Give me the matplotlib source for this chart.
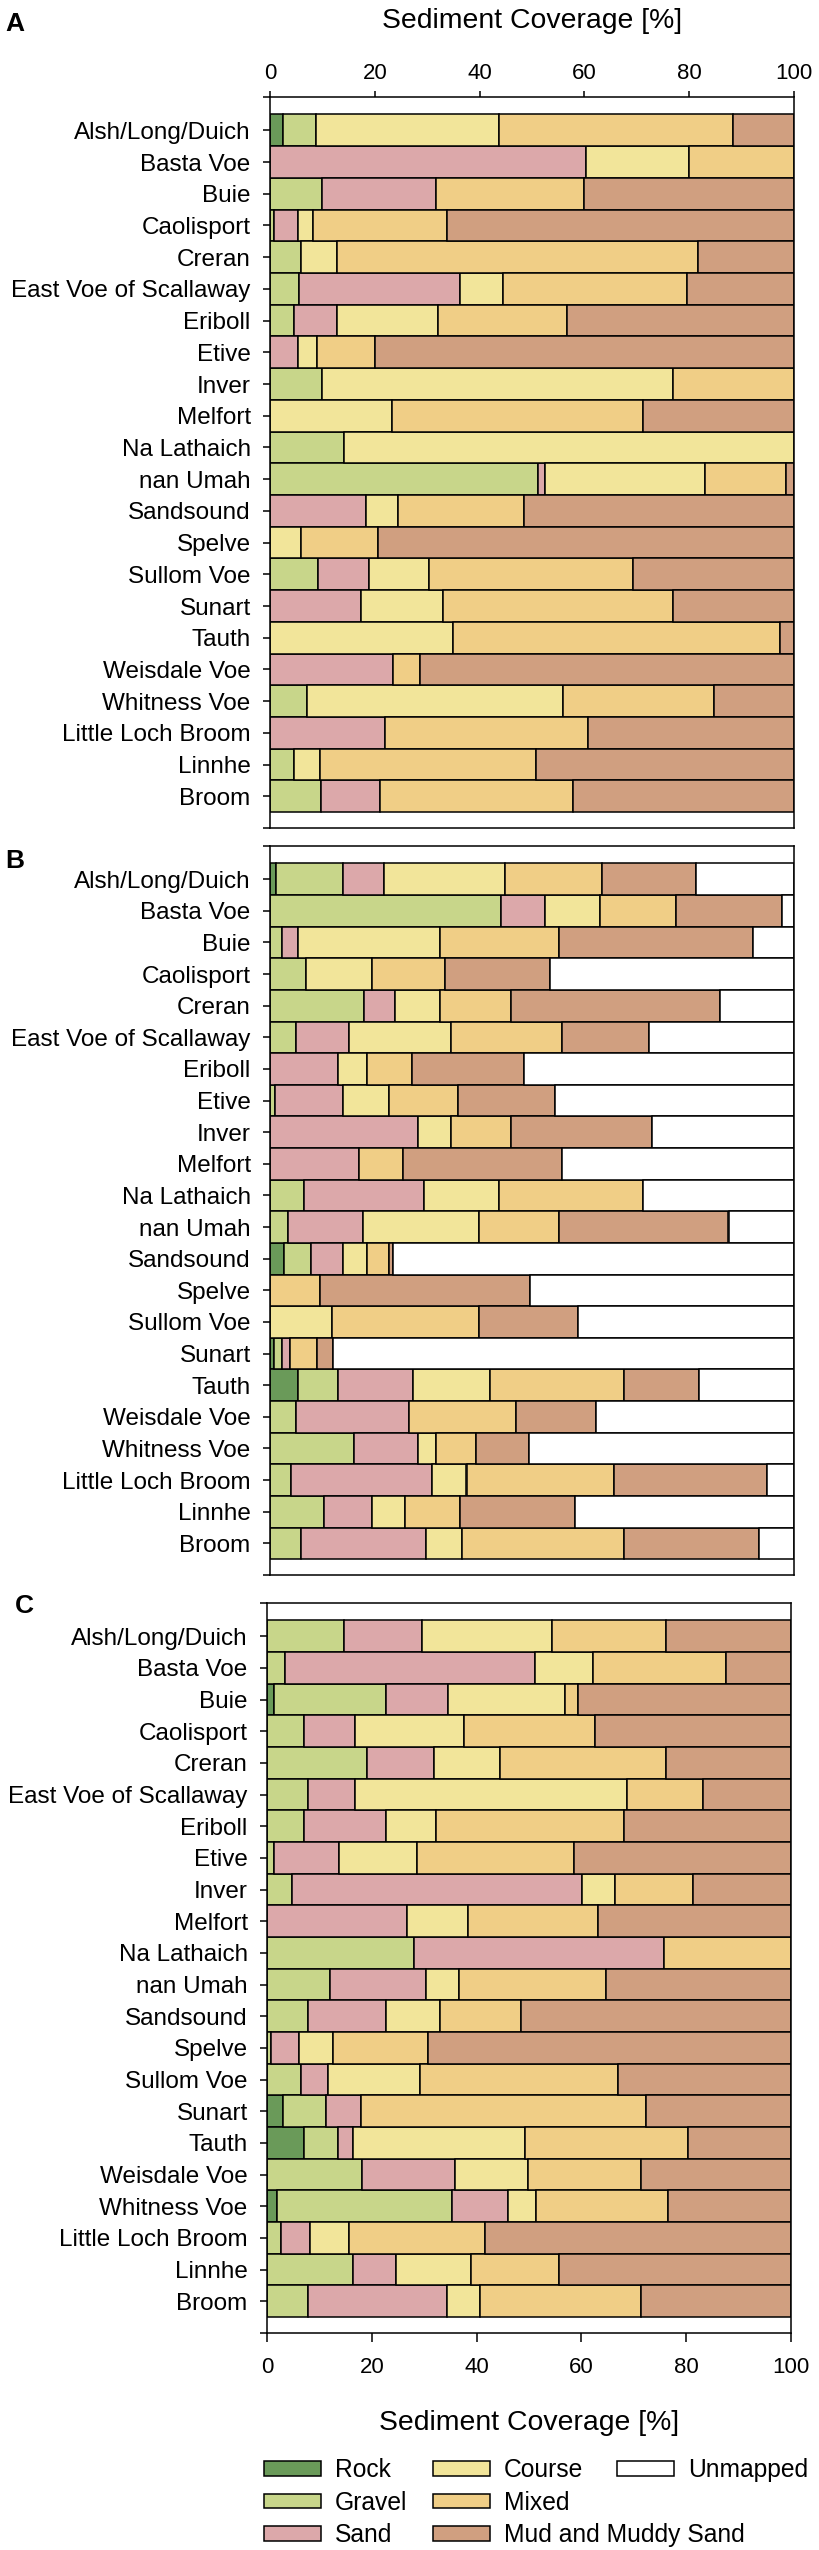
import numpy as np
import matplotlib
matplotlib.use("Agg")
import matplotlib.pyplot as plt
from matplotlib.patches import Patch

plt.rcParams['font.family'] = ['Liberation Sans', 'DejaVu Sans']

sites = ["Alsh/Long/Duich", "Basta Voe", "Buie", "Caolisport", "Creran",
         "East Voe of Scallaway", "Eriboll", "Etive", "Inver", "Melfort",
         "Na Lathaich", "nan Umah", "Sandsound", "Spelve", "Sullom Voe",
         "Sunart", "Tauth", "Weisdale Voe", "Whitness Voe", "Little Loch Broom",
         "Linnhe", "Broom"]

classes = ["Rock", "Gravel", "Sand", "Course", "Mixed", "Mud and Muddy Sand", "Unmapped"]
class_colors = ["#6a9a59", "#c8d68a", "#dca8aa", "#f2e59a", "#f0ce86", "#d09f80", "#ffffff"]

# ---- Panel A ----
a_rock   = [2.4, 0, 0, 0, 0, 0, 0, 0, 0, 0, 0, 0, 0, 0, 0, 0, 0, 0, 0, 0, 0, 0]
a_gravel = [6.4, 0, 10.0, 0.7, 5.9, 5.6, 4.5, 0, 10.0, 0, 14.2, 51.1, 0, 0, 9.1, 0, 0, 0, 7.1, 0, 4.5, 9.8]
a_sand   = [0, 60.3, 21.6, 4.6, 0, 30.7, 8.2, 5.3, 0, 0, 0, 1.3, 18.3, 0, 9.7, 17.4, 0, 23.5, 0, 21.9, 0, 11.2]
a_course = [34.9, 19.7, 0, 3.0, 6.8, 8.1, 19.3, 3.6, 66.9, 23.3, 85.8, 30.6, 6.2, 5.9, 11.6, 15.7, 34.9, 0, 48.8, 0, 5.0, 0]
a_mixed  = [44.6, 20.0, 28.3, 25.4, 69.0, 35.1, 24.7, 11.1, 23.1, 47.9, 0, 15.5, 24.0, 14.8, 38.8, 43.8, 62.4, 5.1, 28.9, 38.7, 41.2, 36.8]
a_mud    = [11.7, 0, 40.1, 66.3, 18.3, 20.5, 43.3, 80.0, 0, 28.8, 0, 1.5, 51.5, 79.3, 30.8, 23.1, 2.7, 71.4, 15.2, 39.4, 49.3, 42.2]
a_unmapped = [0] * 22

# ---- Panel B ----
b_rock   = [1.1, 0, 0, 0, 0, 0, 0, 0, 0, 0, 0, 0, 2.6, 0, 0, 0.7, 5.3, 0, 0, 0, 0, 0]
b_gravel = [12.8, 44.0, 2.3, 6.8, 17.9, 5.0, 0, 1.0, 0, 0, 6.5, 3.5, 5.3, 0, 0, 1.6, 7.7, 5.0, 16.0, 4.1, 10.3, 5.9]
b_sand   = [7.9, 8.5, 3.0, 0, 5.9, 10.0, 12.9, 12.9, 28.3, 17.0, 22.9, 14.2, 6.0, 0, 0, 1.5, 14.2, 21.6, 12.3, 26.9, 9.1, 23.9]
b_course = [23.1, 10.5, 27.1, 12.6, 8.6, 19.5, 5.7, 8.8, 6.2, 0, 14.3, 22.1, 4.7, 0, 11.8, 0, 14.8, 0, 3.3, 6.5, 6.4, 6.8]
b_mixed  = [18.4, 14.4, 22.8, 14.0, 13.6, 21.3, 8.5, 13.1, 11.5, 8.4, 27.5, 15.4, 4.1, 9.5, 28.0, 5.1, 25.6, 20.4, 7.7, 28.1, 10.5, 31.0]
b_mud    = [18.0, 20.3, 36.9, 20.0, 39.9, 16.6, 21.3, 18.5, 26.9, 30.4, 0, 32.3, 0.8, 40.2, 19.0, 3.2, 14.3, 15.3, 10.1, 29.2, 21.9, 25.7]
b_unmapped = [18.7, 2.3, 7.9, 46.6, 14.1, 27.6, 51.6, 45.7, 27.1, 44.2, 28.8, 12.5, 76.5, 50.3, 41.2, 87.9, 18.1, 37.7, 50.6, 5.2, 41.8, 6.7]

# ---- Panel C ----
c_rock   = [0, 0, 1.4, 0, 0, 0, 0, 0, 0, 0, 0, 0, 0, 0, 0, 3.0, 7.1, 0, 2.0, 0, 0, 0]
c_gravel = [14.7, 3.5, 21.3, 7.0, 19.1, 7.9, 7.0, 1.4, 4.7, 0, 28.0, 12.1, 7.8, 0.7, 6.4, 8.2, 6.5, 18.2, 33.4, 2.6, 16.5, 7.8]
c_sand   = [14.8, 47.6, 11.8, 9.8, 12.8, 8.9, 15.7, 12.4, 55.5, 26.8, 47.8, 18.3, 14.9, 5.4, 5.2, 6.7, 2.9, 17.6, 10.5, 5.7, 8.2, 26.5]
c_course = [24.8, 11.1, 22.3, 20.8, 12.6, 51.9, 9.5, 14.8, 6.2, 11.5, 0, 6.3, 10.4, 6.5, 17.6, 0, 32.7, 14.1, 5.5, 7.3, 14.3, 6.4]
c_mixed  = [21.8, 25.4, 2.6, 24.9, 31.7, 14.5, 36.0, 29.9, 14.9, 24.9, 24.2, 28.0, 15.3, 18.1, 37.8, 54.5, 31.2, 21.5, 25.1, 26.0, 16.8, 30.7]
c_mud    = [23.9, 12.4, 40.6, 37.5, 23.8, 16.8, 31.8, 41.5, 18.7, 36.8, 0, 35.3, 51.6, 69.3, 33.0, 27.6, 19.6, 28.6, 23.5, 58.4, 44.2, 28.6]
c_unmapped = [0] * 22

x_ticks = [0, 20, 40, 60, 80, 100]
x_label = "Sediment Coverage [%]"

panels = [
    ("A", [a_rock, a_gravel, a_sand, a_course, a_mixed, a_mud, a_unmapped]),
    ("B", [b_rock, b_gravel, b_sand, b_course, b_mixed, b_mud, b_unmapped]),
    ("C", [c_rock, c_gravel, c_sand, c_course, c_mixed, c_mud, c_unmapped]),
]

W, H = 819, 2550
fig = plt.figure(figsize=(W / 100, H / 100), dpi=100)

# axes boxes in pixels: (left, top, right, bottom)
boxes = [(270, 97, 794, 828), (270, 846, 794, 1575), (267, 1603, 791, 2333)]
letter_pos = [(5, 12), (5, 849), (15, 1594)]

lw = 1.1
y = np.arange(len(sites))
axes = []
for (letter, comps), (l, t, r, b), (lx, ly) in zip(panels, boxes, letter_pos):
    ax = fig.add_axes([l / W, 1 - b / H, (r - l) / W, (b - t) / H])
    axes.append(ax)
    left = np.zeros(len(sites))
    for vals, col, name in zip(comps, class_colors, classes):
        v = np.asarray(vals, dtype=float)
        m = v > 0
        if m.any():
            ax.barh(y[m], v[m], left=left[m], height=1.0, color=col,
                    edgecolor="black", linewidth=lw, label=name, zorder=2)
        left = left + v
    ax.set_xlim(0, 100)
    ax.set_ylim(22.0, -1.05)
    ax.set_yticks(y)
    ax.set_yticklabels(sites)
    ax.set_yticks([-1.05, 22.0], minor=True)
    ax.tick_params(axis="y", which="both", direction="out", length=7.5 * 0.72,
                   width=lw, labelsize=17.5, pad=8.5, colors="black")
    for s in ax.spines.values():
        s.set_linewidth(lw)
        s.set_zorder(5)
    fig.text(lx / W, 1 - ly / H, letter, fontsize=19, fontweight="bold",
             ha="left", va="top")

# Panel A: x axis at top
axA, axB, axC = axes
axA.xaxis.set_ticks_position("top")
axA.set_xticks(x_ticks)
axA.tick_params(axis="x", direction="out", length=6 * 0.72, width=lw,
                labelsize=16, pad=5.0, top=True, bottom=False,
                labeltop=True, labelbottom=False)
axA.xaxis.set_label_position("top")
axA.set_xlabel(x_label, fontsize=20.4)
axA.xaxis.set_label_coords(0.5, 1 + (97 - 28) / 731)

# Panel B: no x ticks
axB.set_xticks([])

# Panel C: x axis at bottom
axC.set_xticks(x_ticks)
axC.tick_params(axis="x", direction="out", length=9 * 0.72, width=lw,
                labelsize=16, pad=10.5)
axC.set_xlabel(x_label, fontsize=20.4)
axC.xaxis.set_label_coords(0.5, -(2410 - 2333) / 730)

# Legend
fs_leg = 17.7
handles = [Patch(facecolor=c, edgecolor="black", linewidth=lw, label=n)
           for c, n in zip(class_colors, classes)]
leg1 = fig.legend(handles=handles[:6], loc="upper left",
                  bbox_to_anchor=(264 / W, 1 - 2458 / H), ncol=2,
                  frameon=False, fontsize=fs_leg, borderpad=0, borderaxespad=0,
                  handlelength=2.3, handleheight=0.53, handletextpad=0.58,
                  columnspacing=1.06, labelspacing=0.35)
leg2 = fig.legend(handles=handles[6:], loc="upper left",
                  bbox_to_anchor=(617 / W, 1 - 2458 / H), ncol=1,
                  frameon=False, fontsize=fs_leg, borderpad=0, borderaxespad=0,
                  handlelength=2.3, handleheight=0.53, handletextpad=0.58,
                  labelspacing=0.35)

fig.savefig("out.png", dpi=100)
